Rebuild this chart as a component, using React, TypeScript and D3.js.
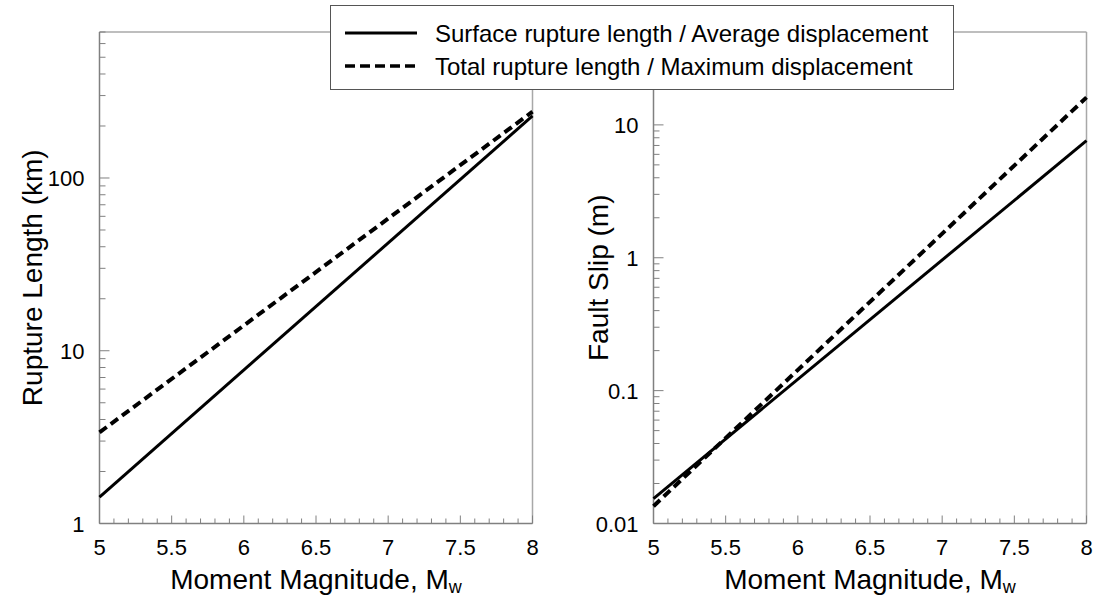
import React from "react";
import * as d3 from "d3";

const magnitudes = [5, 8];
const ruptureSurface = [1.42, 229];
const ruptureTotal = [3.37, 242];
const slipAverage = [0.0154, 7.6];
const slipMaximum = [0.0135, 16.1];

const xTicks = [5, 5.5, 6, 6.5, 7, 7.5, 8];
const leftYTicks = [1, 10, 100];
const rightYTicks = [0.01, 0.1, 1, 10];
const legendLabels = [
  "Surface rupture length / Average displacement",
  "Total rupture length / Maximum displacement",
];

const FONT = "Liberation Sans, Arial, sans-serif";
const AXIS = "#808080";
const FRAME = "#a8a8a8";

function minorLogTicks(lo: number, hi: number) {
  const out: number[] = [];
  for (let e = Math.floor(Math.log10(lo)); e <= Math.ceil(Math.log10(hi)); e++) {
    for (let m = 1; m <= 9; m++) {
      const v = m * Math.pow(10, e);
      if (v >= lo * 0.999 && v <= hi * 1.001) out.push(v);
    }
  }
  return out;
}

function Panel({
  left,
  yDomain,
  yTicks,
  series,
  yTitle,
  yTitleX,
}: {
  left: number;
  yDomain: [number, number];
  yTicks: number[];
  series: { values: number[]; dashed: boolean }[];
  yTitle: string;
  yTitleX: number;
}) {
  const top = 32;
  const bottom = 523.5;
  const width = 433;
  const x = d3.scaleLinear().domain([5, 8]).range([left, left + width]);
  const y = d3.scaleLog().domain(yDomain).range([bottom, top]);
  const minorX = d3.range(50, 81).map((v) => v / 10);
  const minorY = minorLogTicks(yDomain[0], yDomain[1]);
  const line = d3
    .line<number>()
    .x((_, i) => x(magnitudes[i]))
    .y((d) => y(d));
  return (
    <g>
      <line x1={left} x2={left + width} y1={top} y2={top} stroke={FRAME} strokeWidth={1.5} />
      <line x1={left + width} x2={left + width} y1={top} y2={bottom} stroke={FRAME} strokeWidth={1.5} />
      <line x1={left} x2={left} y1={top} y2={bottom} stroke={AXIS} strokeWidth={1.5} />
      <line x1={left} x2={left + width} y1={bottom} y2={bottom} stroke={AXIS} strokeWidth={1.5} />
      {minorX.map((v) => {
        const major = Math.abs(v * 2 - Math.round(v * 2)) < 1e-6;
        return (
          <line
            key={"mx" + v}
            x1={x(v)}
            x2={x(v)}
            y1={bottom}
            y2={bottom - (major ? 8 : 5)}
            stroke={AXIS}
            strokeWidth={1}
          />
        );
      })}
      {xTicks.map((v) => (
        <text
          key={"xt" + v}
          x={x(v)}
          y={bottom + 31}
          textAnchor="middle"
          fontFamily={FONT}
          fontSize={22}
          fill="#000"
        >
          {v}
        </text>
      ))}
      {minorY.map((v) => {
        const major = yTicks.some((t) => Math.abs(t - v) / t < 1e-6);
        return (
          <line
            key={"my" + v}
            x1={left}
            x2={left + (major ? 10 : 6)}
            y1={y(v)}
            y2={y(v)}
            stroke={AXIS}
            strokeWidth={1}
          />
        );
      })}
      {yTicks.map((v) => (
        <text
          key={"yt" + v}
          x={left - 15}
          y={y(v) + 8}
          textAnchor="end"
          fontFamily={FONT}
          fontSize={22}
          fill="#000"
        >
          {String(v)}
        </text>
      ))}
      {series.map((s, i) => (
        <path
          key={"s" + i}
          d={line(s.values) || ""}
          fill="none"
          stroke="#000"
          strokeWidth={s.dashed ? 4 : 3}
          strokeDasharray={s.dashed ? "9,5" : undefined}
        />
      ))}
      <text
        x={left + width / 2}
        y={589}
        textAnchor="middle"
        fontFamily={FONT}
        fontSize={28}
        fill="#000"
      >
        Moment Magnitude, M
        <tspan fontSize={18} dy={4}>
          w
        </tspan>
      </text>
      <text
        transform={`translate(${yTitleX},${(top + bottom) / 2}) rotate(-90)`}
        textAnchor="middle"
        dominantBaseline="central"
        fontFamily={FONT}
        fontSize={28}
        fill="#000"
      >
        {yTitle}
      </text>
    </g>
  );
}

export default function App() {
  return (
    <svg
      width={1094}
      height={600}
      style={{ position: "absolute", left: 0, top: 0, background: "#fff" }}
    >
      <rect x={0} y={0} width={1094} height={600} fill="#fff" />
      <Panel
        left={99.5}
        yDomain={[1, 700]}
        yTicks={leftYTicks}
        series={[
          { values: ruptureSurface, dashed: false },
          { values: ruptureTotal, dashed: true },
        ]}
        yTitle="Rupture Length (km)"
        yTitleX={32}
      />
      <Panel
        left={653.5}
        yDomain={[0.01, 50]}
        yTicks={rightYTicks}
        series={[
          { values: slipAverage, dashed: false },
          { values: slipMaximum, dashed: true },
        ]}
        yTitle="Fault Slip (m)"
        yTitleX={598}
      />
      <rect x={330.5} y={5.5} width={623} height={84} fill="#fff" stroke="#555" strokeWidth={1} />
      <line x1={345} x2={417} y1={33} y2={33} stroke="#000" strokeWidth={3} />
      <line x1={345} x2={417} y1={66} y2={66} stroke="#000" strokeWidth={3.5} strokeDasharray="10,5" />
      {legendLabels.map((t, i) => (
        <text
          key={t}
          x={435}
          y={41.5 + i * 33}
          fontFamily={FONT}
          fontSize={24}
          fill="#000"
        >
          {t}
        </text>
      ))}
    </svg>
  );
}
